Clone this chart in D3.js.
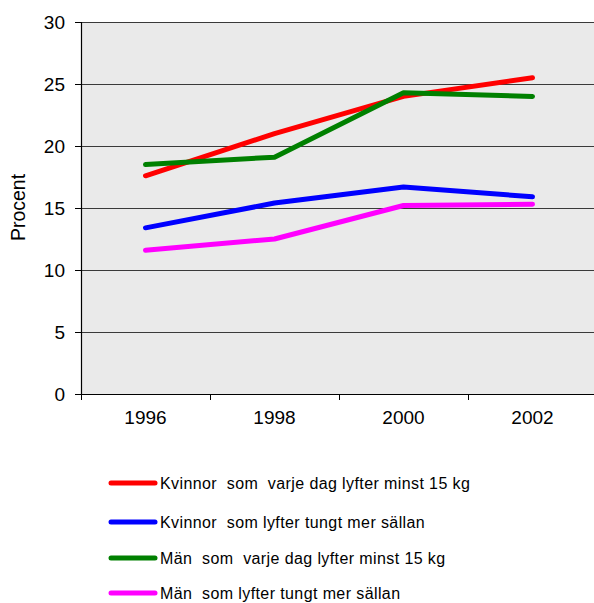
<!DOCTYPE html>
<html>
<head>
<meta charset="utf-8">
<script src="https://cdn.jsdelivr.net/npm/d3@7"></script>
<style>
  html, body { margin: 0; padding: 0; background: #fff; }
  svg { display: block; font-family: "Liberation Sans", Arial, sans-serif; }
  text { white-space: pre; }
</style>
</head>
<body>
<svg id="chart" width="594" height="603"></svg>
<script>
// Andel som lyfter tungt i arbetet, procent
const years = ["1996", "1998", "2000", "2002"];
const seriesNames = [
  "Kvinnor  som  varje dag lyfter minst 15 kg",
  "Kvinnor  som lyfter tungt mer sällan",
  "Män  som  varje dag lyfter minst 15 kg",
  "Män  som lyfter tungt mer sällan"
];
const seriesColors = ["#ff0000", "#0000ff", "#008000", "#ff00ff"];
const kvinnorVarjeDag = [17.6, 21.0, 24.0, 25.5];
const kvinnorSallan   = [13.4, 15.4, 16.7, 15.9];
const manVarjeDag     = [18.5, 19.1, 24.3, 24.0];
const manSallan       = [11.6, 12.5, 15.2, 15.3];
const yTicks = [0, 5, 10, 15, 20, 25, 30];
const yTitle = "Procent";

const seriesValues = [kvinnorVarjeDag, kvinnorSallan, manVarjeDag, manSallan];

const svg = d3.select("#chart");
const plot = { left: 81, right: 597, top: 22, bottom: 394 };
const axisFont = 19;

const x = d3.scaleBand().domain(years).range([plot.left, plot.right]).padding(0);
const y = d3.scaleLinear().domain([0, 30]).range([plot.bottom, plot.top]);

// plot background
svg.append("rect")
  .attr("x", plot.left).attr("y", plot.top)
  .attr("width", plot.right - plot.left).attr("height", plot.bottom - plot.top)
  .attr("fill", "#eaeaea");

// horizontal gridlines
svg.append("g").selectAll("line")
  .data(yTicks.filter(d => d > 0))
  .join("line")
  .attr("x1", plot.left).attr("x2", plot.right)
  .attr("y1", d => y(d) + 0.5).attr("y2", d => y(d) + 0.5)
  .attr("stroke", "#3a3a3a").attr("stroke-width", 1.2);

// y axis
const yAxis = svg.append("g")
  .attr("transform", `translate(${plot.left},0)`)
  .call(d3.axisLeft(y).tickValues(yTicks).tickSize(6).tickPadding(10).tickFormat(d3.format("d")));
yAxis.select(".domain").attr("stroke", "#000").attr("stroke-width", 1.2);
yAxis.selectAll(".tick line").attr("stroke", "#000");
yAxis.selectAll("text").attr("font-size", axisFont).attr("fill", "#000")
  .attr("font-family", "Liberation Sans, Arial, sans-serif");

// x axis: labels at band centres, ticks at band boundaries
const xAxis = svg.append("g")
  .attr("transform", `translate(0,${plot.bottom})`)
  .call(d3.axisBottom(x).tickSize(0).tickPadding(16.5));
xAxis.select(".domain").remove();
xAxis.selectAll("text").attr("font-size", axisFont).attr("fill", "#000")
  .attr("font-family", "Liberation Sans, Arial, sans-serif");
svg.append("line")
  .attr("x1", plot.left).attr("x2", plot.right)
  .attr("y1", plot.bottom + 0.5).attr("y2", plot.bottom + 0.5)
  .attr("stroke", "#000").attr("stroke-width", 1.2);
svg.append("g").selectAll("line")
  .data(years)
  .join("line")
  .attr("x1", d => x(d) + 0.5).attr("x2", d => x(d) + 0.5)
  .attr("y1", plot.bottom).attr("y2", plot.bottom + 6)
  .attr("stroke", "#000").attr("stroke-width", 1);

// y axis title
svg.append("text")
  .attr("transform", "translate(25,207.5) rotate(-90)")
  .attr("text-anchor", "middle")
  .attr("font-size", 19.5)
  .attr("fill", "#000")
  .text(yTitle);

// series lines
const line = d3.line()
  .x((d, i) => x(years[i]) + x.bandwidth() / 2)
  .y(d => y(d));

svg.append("g").selectAll("path")
  .data(seriesValues)
  .join("path")
  .attr("d", d => line(d))
  .attr("fill", "none")
  .attr("stroke", (d, i) => seriesColors[i])
  .attr("stroke-width", 5)
  .attr("stroke-linecap", "round")
  .attr("stroke-linejoin", "round");

// legend
const legendRows = [483, 522, 558, 593];
const legend = svg.append("g");
seriesNames.forEach((name, i) => {
  legend.append("line")
    .attr("x1", 111).attr("x2", 155)
    .attr("y1", legendRows[i]).attr("y2", legendRows[i])
    .attr("stroke", seriesColors[i]).attr("stroke-width", 5)
    .attr("stroke-linecap", "round");
  legend.append("text")
    .attr("x", 160).attr("y", legendRows[i])
    .attr("dy", "0.36em")
    .attr("font-size", 16)
    .attr("letter-spacing", 0.4)
    .attr("fill", "#000")
    .text(name);
});
</script>
</body>
</html>
